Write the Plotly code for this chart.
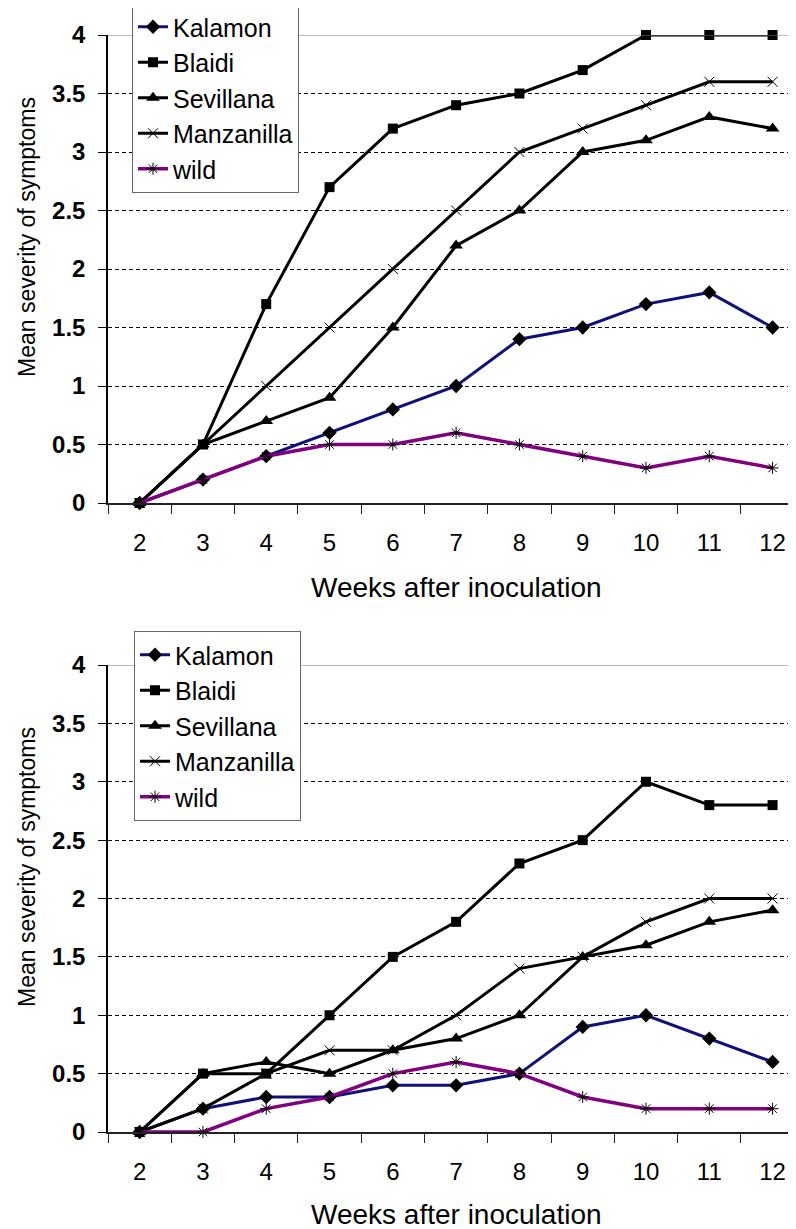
import plotly.graph_objects as go

weeks = [2, 3, 4, 5, 6, 7, 8, 9, 10, 11, 12]
series_names = ["Kalamon", "Blaidi", "Sevillana", "Manzanilla", "wild"]

# top chart
top_kalamon = [0, 0.2, 0.4, 0.6, 0.8, 1.0, 1.4, 1.5, 1.7, 1.8, 1.5]
top_blaidi = [0, 0.5, 1.7, 2.7, 3.2, 3.4, 3.5, 3.7, 4.0, 4.0, 4.0]
top_sevillana = [0, 0.5, 0.7, 0.9, 1.5, 2.2, 2.5, 3.0, 3.1, 3.3, 3.2]
top_manzanilla = [0, 0.5, 1.0, 1.5, 2.0, 2.5, 3.0, 3.2, 3.4, 3.6, 3.6]
top_wild = [0, 0.2, 0.4, 0.5, 0.5, 0.6, 0.5, 0.4, 0.3, 0.4, 0.3]

# bottom chart
bot_kalamon = [0, 0.2, 0.3, 0.3, 0.4, 0.4, 0.5, 0.9, 1.0, 0.8, 0.6]
bot_blaidi = [0, 0.5, 0.5, 1.0, 1.5, 1.8, 2.3, 2.5, 3.0, 2.8, 2.8]
bot_sevillana = [0, 0.5, 0.6, 0.5, 0.7, 0.8, 1.0, 1.5, 1.6, 1.8, 1.9]
bot_manzanilla = [0, 0.2, 0.5, 0.7, 0.7, 1.0, 1.4, 1.5, 1.8, 2.0, 2.0]
bot_wild = [0, 0, 0.2, 0.3, 0.5, 0.6, 0.5, 0.3, 0.2, 0.2, 0.2]

y_ticks = [0, 0.5, 1, 1.5, 2, 2.5, 3, 3.5, 4]
x_title = "Weeks after inoculation"
y_title = "Mean severity of symptoms"

FONT = "Liberation Sans, Arial, sans-serif"

styles = {
    "Kalamon": dict(line=dict(color="#10107a", width=3),
                    marker=dict(symbol="diamond", size=11, color="black")),
    "Blaidi": dict(line=dict(color="black", width=3),
                   marker=dict(symbol="square", size=10, color="black")),
    "Sevillana": dict(line=dict(color="black", width=3),
                      marker=dict(symbol="triangle-up", size=12, color="black")),
    "Manzanilla": dict(line=dict(color="black", width=3),
                       marker=dict(symbol="x-thin-open", size=10, color="black",
                                   line=dict(color="#333333", width=1))),
    "wild": dict(line=dict(color="#800080", width=3.5),
                 marker=dict(symbol="asterisk-open", size=10, color="black",
                             line=dict(color="#222222", width=1))),
}

fig = go.Figure()

top_data = [top_kalamon, top_blaidi, top_sevillana, top_manzanilla, top_wild]
bot_data = [bot_kalamon, bot_blaidi, bot_sevillana, bot_manzanilla, bot_wild]

for name, vals in zip(series_names, top_data):
    fig.add_trace(go.Scatter(x=weeks, y=vals, name=name, mode="lines+markers",
                             xaxis="x", yaxis="y", legend="legend",
                             legendgroup="t" + name, cliponaxis=False,
                             **styles[name]))
for name, vals in zip(series_names, bot_data):
    fig.add_trace(go.Scatter(x=weeks, y=vals, name=name, mode="lines+markers",
                             xaxis="x2", yaxis="y2", legend="legend2",
                             legendgroup="b" + name, cliponaxis=False,
                             **styles[name]))

# page body adds an 8px offset, so the figure is 8px smaller on each side
OFF = 8
W, H = 796 - OFF, 1229 - OFF


def px_x(px):
    return (px - OFF) / W


def px_y(py):
    return 1 - (py - OFF) / H


x_dom = [px_x(108), 1.0]
top_dom = [px_y(503), px_y(35)]
bot_dom = [px_y(1132), px_y(665)]


def xaxis_cfg(anchor):
    return dict(domain=x_dom, anchor=anchor, range=[1.5, 12.37],
                tickvals=weeks, ticktext=[str(w) for w in weeks],
                ticks="", ticklabelstandoff=17,
                tickfont=dict(family=FONT, size=24, color="black"),
                showgrid=False, zeroline=False,
                showline=True, linecolor="#222222", linewidth=1.5,
                minor=dict(tick0=1.5, dtick=1, ticks="outside", ticklen=9,
                           tickcolor="#222222", tickwidth=1, showgrid=False))


def yaxis_cfg(anchor, dom):
    return dict(domain=dom, anchor=anchor, range=[0, 4],
                tickvals=y_ticks, ticktext=[f"{v:g}" for v in y_ticks],
                ticks="outside", ticklen=8, tickcolor="black", tickwidth=1,
                ticklabelstandoff=8,
                tickfont=dict(family=FONT, size=24, color="black", weight="bold"),
                showgrid=True, gridcolor="black", gridwidth=1,
                griddash="4px,3px", zeroline=False,
                showline=True, linecolor="black", linewidth=1.5)


legend_common = dict(font=dict(family=FONT, size=25, color="black"),
                     bgcolor="white", bordercolor="#666666", borderwidth=1,
                     xanchor="left", yanchor="top", tracegroupgap=0,
                     itemwidth=30)

fig.update_layout(
    width=W, height=H,
    margin=dict(l=0, r=0, t=0, b=0, autoexpand=False),
    paper_bgcolor="white", plot_bgcolor="white",
    font=dict(family=FONT, color="black"),
    xaxis=xaxis_cfg("y"),
    yaxis=yaxis_cfg("x", top_dom),
    xaxis2=xaxis_cfg("y2"),
    yaxis2=yaxis_cfg("x2", bot_dom),
    legend=dict(x=px_x(132), y=px_y(3), **legend_common),
    legend2=dict(x=px_x(134), y=px_y(631), **legend_common),
    showlegend=True,
)

# solid top border line at the maximum of each value axis
for yr in ["y", "y2"]:
    fig.add_shape(type="line", xref="x domain" if yr == "y" else "x2 domain",
                  yref=yr, x0=0, x1=1, y0=4, y1=4,
                  line=dict(color="#777777", width=1), layer="above")

for yc in [588, 1214]:
    fig.add_annotation(xref="paper", yref="paper", showarrow=False,
                       text=x_title, x=px_x(456), y=px_y(yc),
                       xanchor="center", yanchor="middle",
                       font=dict(family=FONT, size=28, color="black"))
for yc in [237, 867]:
    fig.add_annotation(xref="paper", yref="paper", showarrow=False,
                       text=y_title, x=px_x(27), y=px_y(yc), textangle=-90,
                       xanchor="center", yanchor="middle",
                       font=dict(family=FONT, size=23, color="black"))

fig.write_html("out.html")
